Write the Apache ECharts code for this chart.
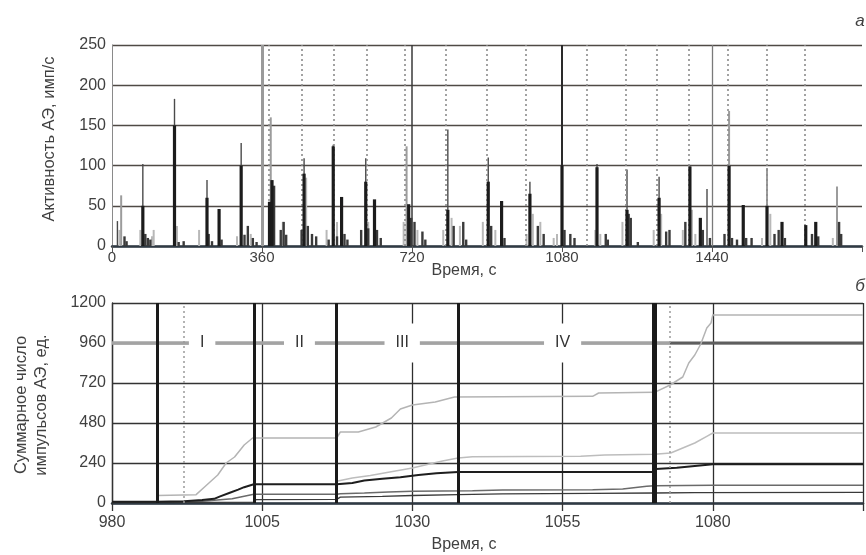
<!DOCTYPE html>
<html><head><meta charset="utf-8">
<script src="https://cdn.jsdelivr.net/npm/echarts/dist/echarts.min.js"></script>
<style>html,body{margin:0;padding:0;background:#fff}#c{width:866px;height:555px}</style>
</head><body><div id="c"></div>
<script>
// ---------- Panel a: AE activity (imp/s) vs time (s) ----------
const topYTicks = [0, 50, 100, 150, 200, 250];
const topSolidLines = [360, 720, 1080, 1440];
const topDottedLines = [377, 456, 531, 612, 703, 802, 900, 994, 1140, 1234, 1308, 1385, 1478, 1572, 1663];
// thin dark peaks [time, value]
const darkPeaks = [[13,31],[74,102],[150,183],[228,82],[310,128],[461,109],[531,126],[609,109],[806,145],[903,110],[1003,80],[1164,102],[1236,95],[1313,86],[1387,99],[1428,71],[1515,51]];
// light (grey) peaks
const grayPeaks = [[22,63],[381,160],[707,124],[1481,168],[1572,97],[1740,74]];
// thick black cores
const corePeaks = [[74,50],[150,150],[228,60],[257,46],[310,100],[378,55],[384,82],[461,90],[531,124],[551,61],[609,80],[630,58],[712,52],[806,45],[903,80],[935,56],[1003,65],[1080,100],[1164,98],[1236,45],[1313,60],[1387,99],[1412,35],[1481,100],[1515,51],[1572,50],[1608,30],[1665,26],[1689,30]];
// small dark bursts
const smallDark = [[30,12],[35,6],[80,15],[86,10],[92,8],[160,5],[172,6],[232,15],[240,6],[263,8],[318,14],[326,25],[338,10],[347,5],[389,75],[405,20],[412,30],[418,14],[455,20],[470,25],[480,15],[490,12],[520,8],[540,12],[558,15],[565,8],[598,20],[615,22],[636,20],[645,10],[718,35],[726,30],[745,18],[752,8],[820,25],[843,30],[850,8],[910,25],[942,10],[1022,25],[1036,15],[1086,20],[1100,15],[1110,10],[1185,15],[1190,8],[1240,40],[1245,35],[1262,5],[1330,18],[1338,20],[1376,30],[1418,20],[1435,10],[1470,15],[1488,10],[1500,8],[1522,10],[1535,10],[1590,15],[1600,20],[1615,10],[1680,15],[1695,12],[1745,30],[1750,15]];
// small light bursts
const smallGray = [[18,20],[68,20],[96,12],[100,20],[156,25],[209,20],[300,12],[333,15],[410,30],[466,85],[515,20],[540,30],[615,30],[700,30],[733,20],[795,20],[815,35],[835,25],[890,30],[920,20],[995,15],[1010,40],[1028,30],[1060,10],[1068,15],[1160,20],[1172,15],[1225,30],[1300,20],[1318,40],[1370,20],[1392,45],[1400,15],[1560,10],[1580,40],[1730,10]];

// ---------- Panel b: cumulative AE pulse count vs time ----------
const botYTicks = [0, 240, 480, 720, 960, 1200];
const stageBounds = [987.5, 1003.6, 1017.4, 1037.6];
const finalBound = [1070.3];
const dottedBounds = [992, 1072.9];
const stageNames = ['I', 'II', 'III', 'IV'];
const stageTimes = [995, 1011.2, 1028.3, 1055];
const stageLevel = 960;
const curveA = [[987.5,45],[994,50],[995.4,96],[997.6,168],[999,240],[1000.4,276],[1002,348],[1003.4,390],[1017.4,390],[1018,426],[1021,426],[1023.9,456],[1026.5,510],[1028,564],[1030,588],[1033.8,606],[1037,636],[1060,640],[1061,660],[1070.3,664],[1072.9,708],[1075,756],[1076,840],[1077,888],[1078,954],[1079,1050],[1079.7,1080],[1080,1128],[1105,1128]];
const curveB = [[1017.4,130],[1020,150],[1023,165],[1026,185],[1030,210],[1033,235],[1035,252],[1037.6,270],[1040,278],[1058,280],[1062,288],[1070.3,292],[1073,300],[1075,330],[1077,360],[1079,400],[1080,420],[1105,420]];
const curveC = [[980,8],[987.5,8],[992,10],[995,18],[997,25],[998,40],[999.5,60],[1001,80],[1002,95],[1003.6,112],[1017.4,112],[1020,120],[1022,135],[1025,145],[1028,155],[1031,168],[1034,178],[1037.6,186],[1070.3,186],[1070.5,204],[1074,212],[1077,222],[1080,232],[1105,232]];
const curveD = [[987.5,5],[995,10],[1000,25],[1002,40],[1003.6,52],[1017.4,52],[1018,55],[1022,60],[1026,66],[1030,70],[1035,72],[1040,74],[1045,78],[1060,80],[1065,84],[1069,100],[1070.3,104],[1080,106],[1105,106]];
const curveE = [[980,3],[1003.6,5],[1004,20],[1017.4,22],[1018,35],[1025,40],[1030,45],[1037.6,50],[1045,55],[1060,58],[1070.3,60],[1077,62],[1105,64]];

const FONT = "'Liberation Sans', Arial, sans-serif";
const TXT = '#404040';

function spike(width, color) {
  return function (params, api) {
    const t = api.value(0), v = api.value(1);
    const a = api.coord([t, 0]), b = api.coord([t, v]);
    return { type: 'rect', shape: { x: a[0] - width / 2, y: b[1], width: width, height: a[1] - b[1] }, style: { fill: color } };
  };
}
function spikeSeries(data, width, color, z) {
  return { type: 'custom', xAxisIndex: 0, yAxisIndex: 0, data: data, encode: { x: 0, y: 1 }, renderItem: spike(width, color), z: z, silent: true };
}

const topSolidStyles = [
  { color: '#9a9a9a', width: 3, type: 'solid' },
  { color: '#3a3a3a', width: 1.5, type: 'solid' },
  { color: '#2a2a2a', width: 2, type: 'solid' },
  { color: '#7a7a7a', width: 1.3, type: 'solid' }
];

const chart = echarts.init(document.getElementById('c'));
chart.setOption({
  animation: false,
  backgroundColor: '#ffffff',
  textStyle: { fontFamily: FONT },
  grid: [
    { left: 112, top: 45, width: 750, height: 201 },
    { left: 112, top: 303, width: 754, height: 200 }
  ],
  xAxis: [
    { gridIndex: 0, type: 'value', min: 0, max: 1800, interval: 360,
      axisLine: { show: true, onZero: false, lineStyle: { color: '#2f3a44', width: 2.5 } },
      axisTick: { show: true, length: 6, lineStyle: { color: '#555' } },
      axisLabel: { color: TXT, fontSize: 15, fontFamily: FONT, margin: 4, formatter: v => (v >= 1800 ? '' : String(v)) },
      splitLine: { show: false } },
    { gridIndex: 1, type: 'value', min: 980, max: 1105, interval: 25,
      axisLine: { show: true, onZero: false, lineStyle: { color: '#2f3a44', width: 2.5 } },
      axisTick: { show: true, length: 8, lineStyle: { color: '#333', width: 1.3 } },
      axisLabel: { color: TXT, fontSize: 16, fontFamily: FONT, margin: 12, formatter: v => (v >= 1105 ? '' : String(v)) },
      splitLine: { show: true, lineStyle: { color: '#2e2e2e', width: 1.3 } } }
  ],
  yAxis: [
    { gridIndex: 0, type: 'value', min: 0, max: 250, interval: 50,
      axisLine: { show: true, lineStyle: { color: '#8a8a8a', width: 1 } },
      axisTick: { show: false },
      axisLabel: { color: TXT, fontSize: 16, fontFamily: FONT, margin: 6, formatter: v => String(v) },
      splitLine: { show: true, lineStyle: { color: '#4f4a46', width: 1.4 } } },
    { gridIndex: 1, type: 'value', min: 0, max: 1200, interval: 240,
      axisLine: { show: true, lineStyle: { color: '#333', width: 1.3 } },
      axisTick: { show: false },
      axisLabel: { color: TXT, fontSize: 16, fontFamily: FONT, margin: 6, formatter: v => String(v) },
      splitLine: { show: true, lineStyle: { color: '#333', width: 1.4 } } }
  ],
  graphic: [
    { type: 'text', x: 49, y: 139, rotation: Math.PI / 2, z: 10,
      style: { text: 'Активность АЭ, имп/с', fontSize: 16.5, fontFamily: FONT, fill: TXT, align: 'center', verticalAlign: 'middle' } },
    { type: 'text', x: 464, y: 271, z: 10,
      style: { text: 'Время, с', fontSize: 16, fontFamily: FONT, fill: TXT, align: 'center', verticalAlign: 'middle' } },
    { type: 'text', x: 31, y: 405, rotation: Math.PI / 2, z: 10,
      style: { text: 'Суммарное число\nимпульсов АЭ, ед.', fontSize: 16.5, lineHeight: 20, fontFamily: FONT, fill: TXT, align: 'center', verticalAlign: 'middle' } },
    { type: 'text', x: 464, y: 545, z: 10,
      style: { text: 'Время, с', fontSize: 16, fontFamily: FONT, fill: TXT, align: 'center', verticalAlign: 'middle' } },
    { type: 'text', x: 860, y: 21, z: 10,
      style: { text: 'а', fontSize: 17, fontStyle: 'italic', fontFamily: FONT, fill: TXT, align: 'center', verticalAlign: 'middle' } },
    { type: 'text', x: 860, y: 286, z: 10,
      style: { text: 'б', fontSize: 17, fontStyle: 'italic', fontFamily: FONT, fill: TXT, align: 'center', verticalAlign: 'middle' } }
  ],
  series: [
    // panel a: vertical reference lines
    { type: 'line', xAxisIndex: 0, yAxisIndex: 0, data: [], silent: true, z: 1,
      markLine: { symbol: 'none', silent: true, label: { show: false }, animation: false,
        data: topSolidLines.map((x, i) => ({ xAxis: x, lineStyle: topSolidStyles[i] }))
          .concat(topDottedLines.map(x => ({ xAxis: x, lineStyle: { color: '#8c8c8c', width: 1.6, type: [2, 3] } }))) } },
    spikeSeries(smallGray, 2, '#b8b8b8', 2),
    spikeSeries(grayPeaks, 2, '#9c9c9c', 3),
    spikeSeries(darkPeaks, 1.4, '#4a4a4a', 4),
    spikeSeries(smallDark, 2.4, '#3a3a3a', 5),
    spikeSeries(corePeaks, 3.2, '#1c1c1c', 6),

    // panel b: stage level line
    { type: 'line', xAxisIndex: 1, yAxisIndex: 1, data: [[980, stageLevel], [dottedBounds[1], stageLevel]], symbol: 'none', silent: true, z: 2,
      lineStyle: { color: '#a3a3a3', width: 3.5 } },
    { type: 'line', xAxisIndex: 1, yAxisIndex: 1, data: [[dottedBounds[1], stageLevel], [1105, stageLevel]], symbol: 'none', silent: true, z: 2,
      lineStyle: { color: '#5e5e5e', width: 3 } },
    // cumulative curves
    { type: 'line', xAxisIndex: 1, yAxisIndex: 1, data: curveA, symbol: 'none', silent: true, z: 3, lineStyle: { color: '#b4b4b4', width: 1.5 } },
    { type: 'line', xAxisIndex: 1, yAxisIndex: 1, data: curveB, symbol: 'none', silent: true, z: 3, lineStyle: { color: '#bdbdbd', width: 1.5 } },
    { type: 'line', xAxisIndex: 1, yAxisIndex: 1, data: curveD, symbol: 'none', silent: true, z: 3, lineStyle: { color: '#6a6a6a', width: 1.5 } },
    { type: 'line', xAxisIndex: 1, yAxisIndex: 1, data: curveE, symbol: 'none', silent: true, z: 3, lineStyle: { color: '#3a3a3a', width: 1.3 } },
    { type: 'line', xAxisIndex: 1, yAxisIndex: 1, data: curveC, symbol: 'none', silent: true, z: 3, lineStyle: { color: '#1e1e1e', width: 2 } },
    // stage boundaries
    { type: 'line', xAxisIndex: 1, yAxisIndex: 1, data: [], silent: true, z: 4,
      markLine: { symbol: 'none', silent: true, label: { show: false }, animation: false,
        data: stageBounds.map(x => ({ xAxis: x, lineStyle: { color: '#1a1a1a', width: 3, type: 'solid' } }))
          .concat(finalBound.map(x => ({ xAxis: x, lineStyle: { color: '#1a1a1a', width: 5, type: 'solid' } })))
          .concat(dottedBounds.map(x => ({ xAxis: x, lineStyle: { color: '#9a9a9a', width: 1.5, type: [2, 3] } }))) } },
    // stage labels
    { type: 'scatter', xAxisIndex: 1, yAxisIndex: 1, symbolSize: 1, silent: true, z: 6,
      itemStyle: { opacity: 1, color: '#ffffff' },
      data: stageNames.map((n, i) => ({ name: n, value: [stageTimes[i], stageLevel] })),
      label: { show: true, position: 'inside', formatter: p => p.name, color: '#333', opacity: 1, fontSize: 16, fontFamily: FONT,
        backgroundColor: '#ffffff', padding: [12, 11, 11, 11] } }
  ]
});
</script>
</body></html>
